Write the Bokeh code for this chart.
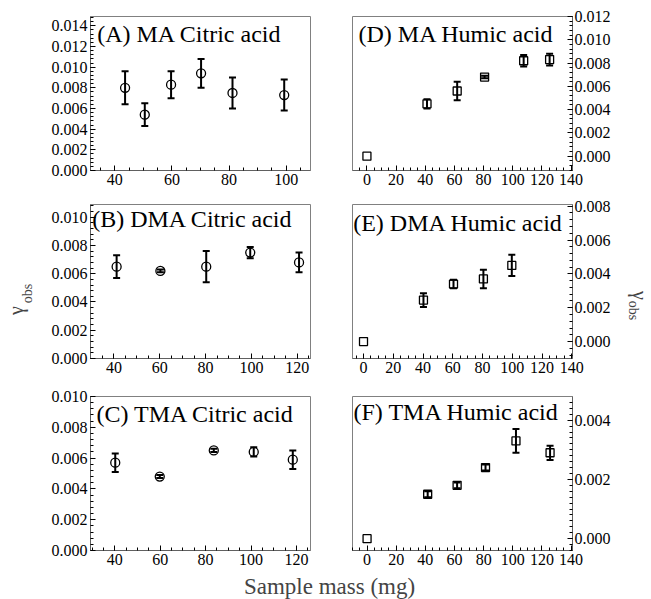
from bokeh.plotting import figure
from bokeh.models import (Range1d, Label, Whisker, TeeHead, ColumnDataSource,
                          SingleIntervalTicker, PrintfTickFormatter)
from bokeh.layouts import column, row
from bokeh.embed import file_html
from bokeh.resources import INLINE

# ---------------- data ----------------
A_title = "(A) MA Citric acid"
A_mass = [43.6, 50.5, 59.7, 70.2, 81.2, 99.3]
A_gamma = [0.0080, 0.0054, 0.0083, 0.0094, 0.0075, 0.0073]
A_err = [0.0016, 0.0011, 0.0013, 0.0014, 0.0015, 0.0015]

B_title = "(B) DMA Citric acid"
B_mass = [41.2, 60.3, 80.3, 99.5, 120.8]
B_gamma = [0.0065, 0.0062, 0.0065, 0.0075, 0.0068]
B_err = [0.0008, 0.0001, 0.0011, 0.0004, 0.0007]

C_title = "(C) TMA Citric acid"
C_mass = [40.2, 59.8, 83.6, 101.2, 118.4]
C_gamma = [0.0057, 0.0048, 0.0065, 0.0064, 0.0059]
C_err = [0.0006, 0.0001, 0.0001, 0.0003, 0.0006]

D_title = "(D) MA Humic acid"
D_mass = [0.0, 41.2, 61.9, 80.7, 107.5, 125.3]
D_gamma = [0.0, 0.0045, 0.0056, 0.0068, 0.0082, 0.0083]
D_err = [0.0, 0.0004, 0.0008, 0.0001, 0.0005, 0.0005]

E_title = "(E) DMA Humic acid"
E_mass = [0.0, 40.3, 60.5, 80.6, 99.7]
E_gamma = [0.0, 0.00245, 0.0034, 0.0037, 0.0045]
E_err = [0.0, 0.0004, 0.00025, 0.00055, 0.00063]

F_title = "(F) TMA Humic acid"
F_mass = [0.0, 41.6, 61.8, 81.3, 102.2, 125.6]
F_gamma = [0.0, 0.0015, 0.0018, 0.0024, 0.0033, 0.0029]
F_err = [0.0, 0.0001, 0.0001, 0.0001, 0.0004, 0.00024]

x_label = "Sample mass (mg)"
y_symbol = "γ"
y_sub = "obs"

FONT = "Liberation Serif"


def panel(mass, gamma, err, marker, msize, xr, yr, yminor, side, title,
          tdx, tdy, w, h, bl, br, bt, bb):
    p = figure(width=w, height=h, output_backend="svg", toolbar_location=None,
               x_range=Range1d(*xr), y_range=Range1d(*yr), y_axis_location=side,
               min_border_left=bl, min_border_right=br, min_border_top=bt,
               min_border_bottom=bb)
    p.grid.visible = False
    p.outline_line_color = "#808080"
    p.outline_line_width = 1
    for ax in p.axis:
        ax.axis_line_color = "#606060"
        ax.major_tick_in = 5
        ax.major_tick_out = 0
        ax.minor_tick_in = 3
        ax.minor_tick_out = 0
        ax.major_tick_line_color = "black"
        ax.minor_tick_line_color = "black"
        ax.major_label_text_font = FONT
        ax.major_label_text_font_size = "16px"
        ax.major_label_text_color = "black"
        ax.major_label_standoff = 3
    if side == "right":
        p.yaxis.major_label_standoff = 2
    p.xaxis.ticker = SingleIntervalTicker(interval=20, num_minor_ticks=4)
    p.yaxis.ticker = SingleIntervalTicker(interval=0.002, num_minor_ticks=yminor)
    p.yaxis.formatter = PrintfTickFormatter(format="%.3f")

    keep = [i for i, e in enumerate(err) if e > 0]
    src = ColumnDataSource(dict(
        x=[mass[i] for i in keep],
        lower=[gamma[i] - err[i] for i in keep],
        upper=[gamma[i] + err[i] for i in keep]))
    wh = Whisker(base="x", upper="upper", lower="lower", source=src,
                 dimension="height", line_width=2, line_color="black",
                 upper_head=TeeHead(size=7, line_width=2, line_color="black"),
                 lower_head=TeeHead(size=7, line_width=2, line_color="black"))
    p.add_layout(wh)
    p.scatter(x=mass, y=gamma, marker=marker, size=msize, fill_color=None,
              line_color="black", line_width=1.3)

    p.add_layout(Label(x=xr[0], y=yr[1], x_offset=tdx, y_offset=-tdy, text=title,
                       text_font=FONT, text_font_size="24px", text_color="black",
                       text_align="left", text_baseline="middle"))
    return p


LW, RW = 280, 300
pA = panel(A_mass, A_gamma, A_err, "circle", 9, (31.5, 108.5), (0, 0.0149), 5,
           "left", A_title, 6.7, 17.5, LW, 193, 50, 10, 16, 23)
pB = panel(B_mass, B_gamma, B_err, "circle", 9, (29.8, 125.8), (0, 0.0109), 5,
           "left", B_title, 1.7, 14.5, LW, 188, 50, 10, 11, 23)
pC = panel(C_mass, C_gamma, C_err, "circle", 9, (29.3, 126.2), (0, 0.0100), 5,
           "left", C_title, 6, 17.5, LW, 191, 50, 10, 15, 22)
pD = panel(D_mass, D_gamma, D_err, "square", 8, (-9.9, 141), (-0.00123, 0.012), 5,
           "right", D_title, 6, 17.5, RW, 193, 32, 48, 16, 23)
pE = panel(E_mass, E_gamma, E_err, "square", 8, (-7.4, 140.5), (-0.001, 0.0081), 5,
           "right", E_title, 0.7, 18.6, RW, 188, 32, 48, 11, 23)
pF = panel(F_mass, F_gamma, F_err, "square", 8, (-10, 141), (-0.0004, 0.0048), 10,
           "right", F_title, 1, 15, RW, 191, 32, 48, 15, 22)


def strip(w, h):
    s = figure(width=w, height=h, output_backend="svg", toolbar_location=None,
               x_range=Range1d(0, w), y_range=Range1d(0, h), x_axis_location=None,
               y_axis_location=None, min_border=0)
    s.grid.visible = False
    s.outline_line_color = None
    return s


STRIP_H = 572
pL = strip(40, STRIP_H)
pL.add_layout(Label(x=15.5, y=STRIP_H - 310, text=y_symbol, angle=1.5708,
                    text_font=FONT, text_font_size="20px", text_align="center",
                    text_baseline="middle"))
pL.add_layout(Label(x=27, y=STRIP_H - 293, text=y_sub, angle=1.5708,
                    text_font=FONT, text_font_size="14px", text_align="center",
                    text_baseline="middle"))
pR = strip(31, STRIP_H)
pR.add_layout(Label(x=19, y=STRIP_H - 295, text=y_symbol, angle=-1.5708,
                    text_font=FONT, text_font_size="20px", text_align="center",
                    text_baseline="middle"))
pR.add_layout(Label(x=13, y=STRIP_H - 310, text=y_sub, angle=-1.5708,
                    text_font=FONT, text_font_size="14px", text_align="center",
                    text_baseline="middle"))

# shared x label
pX = strip(651, 27)
pX.add_layout(Label(x=329, y=13.5, text=x_label, text_font=FONT,
                    text_font_size="23px", text_align="center",
                    text_baseline="middle"))

grid = column(row(pA, pD), row(pB, pE), row(pC, pF))
layout = column(row(pL, grid, pR), pX)
open("out.html", "w").write(file_html(layout, INLINE))
